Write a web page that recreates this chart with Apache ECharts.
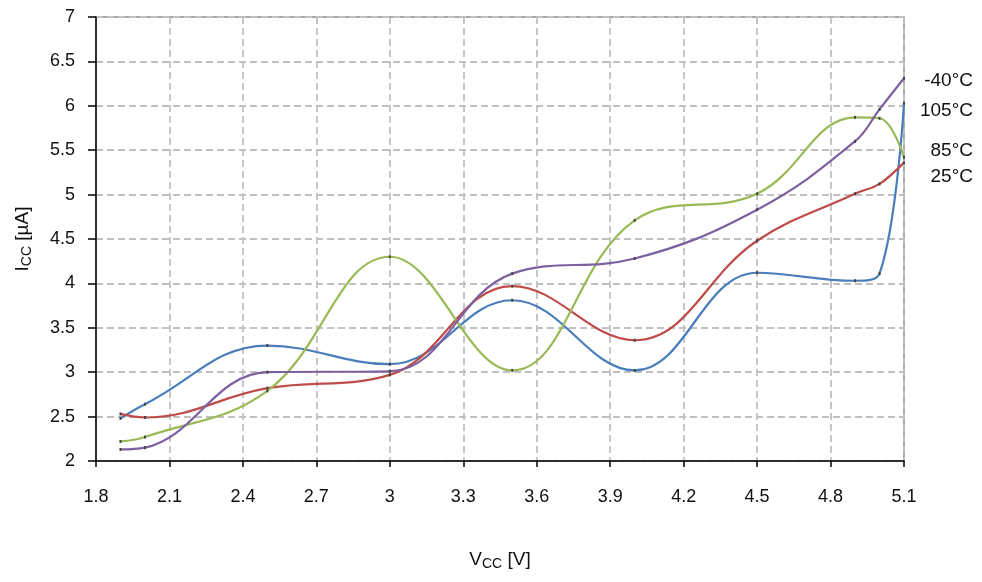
<!DOCTYPE html>
<html>
<head>
<meta charset="utf-8">
<script src="https://cdn.jsdelivr.net/npm/echarts@6/dist/echarts.min.js"></script>
<style>
html,body{margin:0;padding:0;background:#fff;}
#c{width:982px;height:582px;}
</style>
</head>
<body>
<div id="c"></div>
<script>
const vcc = [1.9, 2.0, 2.5, 3.0, 3.5, 4.0, 4.5, 4.9, 5.0, 5.1];
const icc105 = [2.48, 2.64, 3.30, 3.09, 3.81, 3.02, 4.12, 4.03, 4.11, 6.03];
const icc25 = [2.53, 2.49, 2.82, 2.97, 3.97, 3.36, 4.48, 5.01, 5.12, 5.36];
const icc85 = [2.22, 2.27, 2.79, 4.30, 3.02, 4.71, 5.01, 5.87, 5.86, 5.42];
const iccM40 = [2.13, 2.15, 3.00, 3.01, 4.11, 4.28, 4.83, 5.60, 5.96, 6.31];
const seriesNames = ['105°C', '25°C', '85°C', '-40°C'];
const seriesColors = ['#4a7ebb', '#be4b48', '#98b954', '#7d60a0'];
const labelOffsets = [[69, 8], [69, 14], [69, -7], [69, 2]];
const xTicks = {min: 1.8, max: 5.1, interval: 0.3};
const yTicks = {min: 2, max: 7, interval: 0.5};

const FONT = "'Liberation Sans', Arial, sans-serif";
const allData = [icc105, icc25, icc85, iccM40];

const chart = echarts.init(document.getElementById('c'), null, {renderer: 'canvas'});
const gridLine = {show: true, lineStyle: {color: '#c0c0c0', width: 1.8, type: [7, 4]}};

chart.setOption({
  animation: false,
  backgroundColor: '#fff',
  grid: {left: 96, right: 78, top: 17, bottom: 121, show: true, borderColor: '#8c8c8c', borderWidth: 1.5},
  xAxis: {
    type: 'value', min: xTicks.min, max: xTicks.max, interval: xTicks.interval,
    axisLine: {show: true, onZero: false, lineStyle: {color: '#000', width: 1.5}},
    axisTick: {show: true, length: 6, lineStyle: {color: '#000', width: 1.5}},
    axisLabel: {color: '#111', fontFamily: FONT, fontSize: 18, margin: 27,
      formatter: v => String(+v.toFixed(1))},
    splitLine: gridLine,
    name: '{a|V}{b|CC}{a| [V]}', nameLocation: 'middle', nameGap: 88,
    nameTextStyle: {color: '#111', fontFamily: FONT, rich: {
      a: {fontSize: 19, fontFamily: FONT, color: '#111'},
      b: {fontSize: 14, fontFamily: FONT, color: '#111', padding: [8, 0, 0, 0]}
    }}
  },
  yAxis: {
    type: 'value', min: yTicks.min, max: yTicks.max, interval: yTicks.interval,
    axisLine: {show: true, onZero: false, lineStyle: {color: '#000', width: 1.5}},
    axisTick: {show: true, length: 8, lineStyle: {color: '#000', width: 1.5}},
    axisLabel: {color: '#111', fontFamily: FONT, fontSize: 18, margin: 21,
      formatter: v => String(+v.toFixed(1))},
    splitLine: gridLine,
    name: '{a|I}{b|CC}{a| [µA]}', nameLocation: 'middle', nameGap: 62,
    nameTextStyle: {color: '#111', fontFamily: FONT, rich: {
      a: {fontSize: 19, fontFamily: FONT, color: '#111'},
      b: {fontSize: 14, fontFamily: FONT, color: '#111', padding: [8, 0, 0, 0]}
    }}
  },
  series: allData.map((d, i) => ({
    name: seriesNames[i],
    type: 'line',
    smooth: 0.4,
    data: vcc.map((x, j) => [x, d[j]]),
    symbol: 'rect',
    symbolSize: [2, 3],
    itemStyle: {color: '#444'},
    lineStyle: {color: seriesColors[i], width: 2.2},
    endLabel: {
      show: true, formatter: seriesNames[i], distance: 0,
      offset: labelOffsets[i], align: 'right', verticalAlign: 'middle',
      fontFamily: FONT, fontSize: 19, color: '#111'
    },
    z: 2 + i
  }))
});
</script>
</body>
</html>
